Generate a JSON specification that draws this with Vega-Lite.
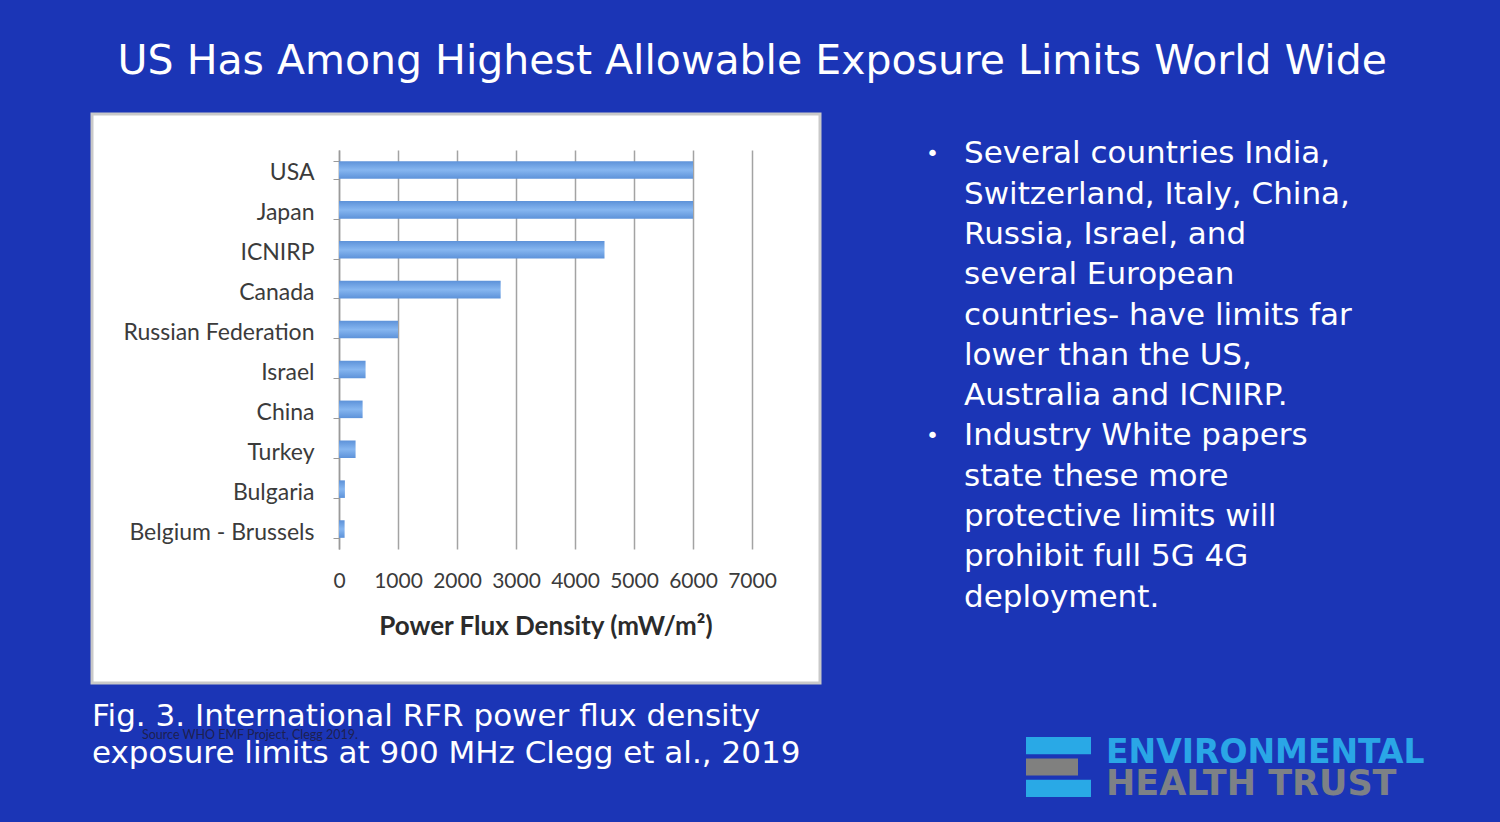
{
  "$schema": "https://vega.github.io/schema/vega-lite/v6.json",
  "background": "#1b35b6",
  "padding": {"left": 90, "top": 40, "right": 0, "bottom": 23},
  "title": {
    "text": "US Has Among Highest Allowable Exposure Limits World Wide",
    "font": "DejaVu Sans",
    "fontSize": 41,
    "fontWeight": "normal",
    "color": "white",
    "anchor": "middle",
    "offset": 19,
    "dx": -43
  },
  "config": {
    "view": {"stroke": null},
    "axis": {"labelFont": "Lato", "titleFont": "Lato"}
  },
  "spacing": 104,
  "hconcat": [
    {
      "spacing": 13,
      "vconcat": [
        {
          "width": 728,
          "height": 569,
          "view": {"fill": "white", "stroke": "#c9c9c9", "strokeWidth": 3},
          "data": {
            "values": [
              {"region": "USA", "pfd": 6000},
              {"region": "Japan", "pfd": 6000},
              {"region": "ICNIRP", "pfd": 4500},
              {"region": "Canada", "pfd": 2740},
              {"region": "Russian Federation", "pfd": 1000},
              {"region": "Israel", "pfd": 450},
              {"region": "China", "pfd": 400},
              {"region": "Turkey", "pfd": 281},
              {"region": "Bulgaria", "pfd": 100},
              {"region": "Belgium - Brussels", "pfd": 95}
            ]
          },
          "mark": {
            "type": "bar",
            "color": {
              "gradient": "linear",
              "x1": 0, "y1": 0, "x2": 0, "y2": 1,
              "stops": [
                {"offset": 0, "color": "#5d92d9"},
                {"offset": 0.5, "color": "#86b6f0"},
                {"offset": 1, "color": "#5d92d9"}
              ]
            }
          },
          "encoding": {
            "y": {
              "field": "region",
              "type": "nominal",
              "sort": null,
              "scale": {"range": [36, 435], "paddingInner": 0.56, "paddingOuter": 0.28},
              "axis": {
                "title": null,
                "orient": "left",
                "offset": -247,
                "labelFontSize": 23,
                "labelColor": "#3b3b3b",
                "labelPadding": 19,
                "labelLimit": 320,
                "labelOffset": 3,
                "tickBand": "extent",
                "tickColor": "#9a9a9a",
                "tickSize": 6,
                "domainColor": "#9a9a9a",
                "domainWidth": 1.5,
                "grid": false
              }
            },
            "x": {
              "field": "pfd",
              "type": "quantitative",
              "scale": {"domain": [0, 7000], "range": [247, 660], "nice": false},
              "axis": {
                "values": [0, 1000, 2000, 3000, 4000, 5000, 6000, 7000],
                "format": "d",
                "title": "Power Flux Density (mW/m²)",
                "orient": "top",
                "offset": -435,
                "domain": false,
                "ticks": false,
                "tickSize": 0,
                "grid": true,
                "gridColor": "#a3a3a3",
                "gridWidth": 1.5,
                "labelFontSize": 21,
                "labelColor": "#3b3b3b",
                "labelPadding": -32,
                "labelBaseline": "middle",
                "labelOverlap": false,
                "labelFlush": false,
                "titleFontSize": 26,
                "titleFontWeight": "bold",
                "titleColor": "#2b2b2b",
                "titleY": 77,
                "titleBaseline": "middle"
              }
            }
          }
        },
        {
          "width": 728,
          "height": 74,
          "layer": [
            {
              "data": {
                "values": [
                  {"line": 1, "text": "Fig. 3. International RFR power flux density"},
                  {"line": 2, "text": "exposure limits at 900 MHz  Clegg et al., 2019"}
                ]
              },
              "mark": {"type": "text", "align": "left", "baseline": "middle", "font": "DejaVu Sans", "fontSize": 31, "color": "white"},
              "encoding": {
                "y": {"field": "line", "type": "ordinal", "axis": null, "scale": {"type": "point", "padding": 0.5}},
                "x": {"datum": 0, "type": "quantitative", "scale": {"domain": [0, 1]}, "axis": null},
                "text": {"field": "text"}
              }
            },
            {
              "data": {"values": [{"line": 1, "text": "Source WHO EMF Project, Clegg 2019."}]},
              "mark": {"type": "text", "align": "left", "baseline": "middle", "font": "Lato", "fontSize": 12.5, "color": "#1d2050", "dx": 50, "dy": 18},
              "encoding": {
                "y": {"field": "line", "type": "ordinal", "axis": null},
                "x": {"datum": 0, "type": "quantitative", "axis": null},
                "text": {"field": "text"}
              }
            }
          ]
        }
      ]
    },
    {
      "spacing": 98,
      "vconcat": [
        {
          "width": 574,
          "height": 524,
          "data": {
            "values": [
              {"line": 1, "bullet": true, "text": "Several countries  India,"},
              {"line": 2, "bullet": false, "text": "Switzerland, Italy, China,"},
              {"line": 3, "bullet": false, "text": "Russia, Israel, and"},
              {"line": 4, "bullet": false, "text": "several European"},
              {"line": 5, "bullet": false, "text": "countries- have limits far"},
              {"line": 6, "bullet": false, "text": "lower than the US,"},
              {"line": 7, "bullet": false, "text": "Australia and ICNIRP."},
              {"line": 8, "bullet": true, "text": "Industry White papers"},
              {"line": 9, "bullet": false, "text": "state these more"},
              {"line": 10, "bullet": false, "text": "protective limits will"},
              {"line": 11, "bullet": false, "text": "prohibit full 5G 4G"},
              {"line": 12, "bullet": false, "text": "deployment."}
            ]
          },
          "encoding": {
            "y": {"field": "line", "type": "ordinal", "axis": null, "scale": {"type": "point", "padding": 1}},
            "x": {"datum": 0, "type": "quantitative", "scale": {"domain": [0, 1]}, "axis": null}
          },
          "layer": [
            {
              "mark": {"type": "text", "align": "left", "baseline": "middle", "font": "DejaVu Sans", "fontSize": 31, "color": "white", "dx": 38},
              "encoding": {"text": {"field": "text"}}
            },
            {
              "transform": [{"filter": "datum.bullet"}],
              "mark": {"type": "text", "align": "left", "baseline": "middle", "font": "DejaVu Sans", "fontSize": 22, "color": "white", "text": "•"}
            }
          ]
        },
        {
          "spacing": 15,
          "hconcat": [
            {
              "width": 165,
              "height": 60,
              "data": {
                "values": [
                  {"bar": "top", "len": 1},
                  {"bar": "middle", "len": 0.8},
                  {"bar": "bottom", "len": 1}
                ]
              },
              "mark": "bar",
              "encoding": {
                "y": {"field": "bar", "type": "nominal", "sort": null, "axis": null, "scale": {"paddingInner": 0.2, "paddingOuter": 0}},
                "x": {"field": "len", "type": "quantitative", "axis": null, "scale": {"domain": [0, 1], "range": [100, 165]}},
                "color": {
                  "field": "bar",
                  "type": "nominal",
                  "legend": null,
                  "scale": {"domain": ["top", "middle", "bottom"], "range": ["#29a9e6", "#80807f", "#29a9e6"]}
                }
              }
            },
            {
              "width": 340,
              "height": 62,
              "data": {
                "values": [
                  {"line": 1, "word": "ENVIRONMENTAL"},
                  {"line": 2, "word": "HEALTH TRUST"}
                ]
              },
              "encoding": {
                "y": {"field": "line", "type": "ordinal", "axis": null, "scale": {"type": "point", "padding": 0.5}},
                "x": {"datum": 0, "type": "quantitative", "scale": {"domain": [0, 1]}, "axis": null},
                "text": {"field": "word"}
              },
              "layer": [
                {
                  "transform": [{"filter": "datum.line == 1"}],
                  "mark": {"type": "text", "align": "left", "baseline": "middle", "font": "DejaVu Sans", "fontWeight": "bold", "fontSize": 33, "color": "#2aa6e6"}
                },
                {
                  "transform": [{"filter": "datum.line == 2"}],
                  "mark": {"type": "text", "align": "left", "baseline": "middle", "font": "DejaVu Sans", "fontWeight": "bold", "fontSize": 35, "color": "#7d8186"}
                }
              ]
            }
          ]
        }
      ]
    }
  ]
}
